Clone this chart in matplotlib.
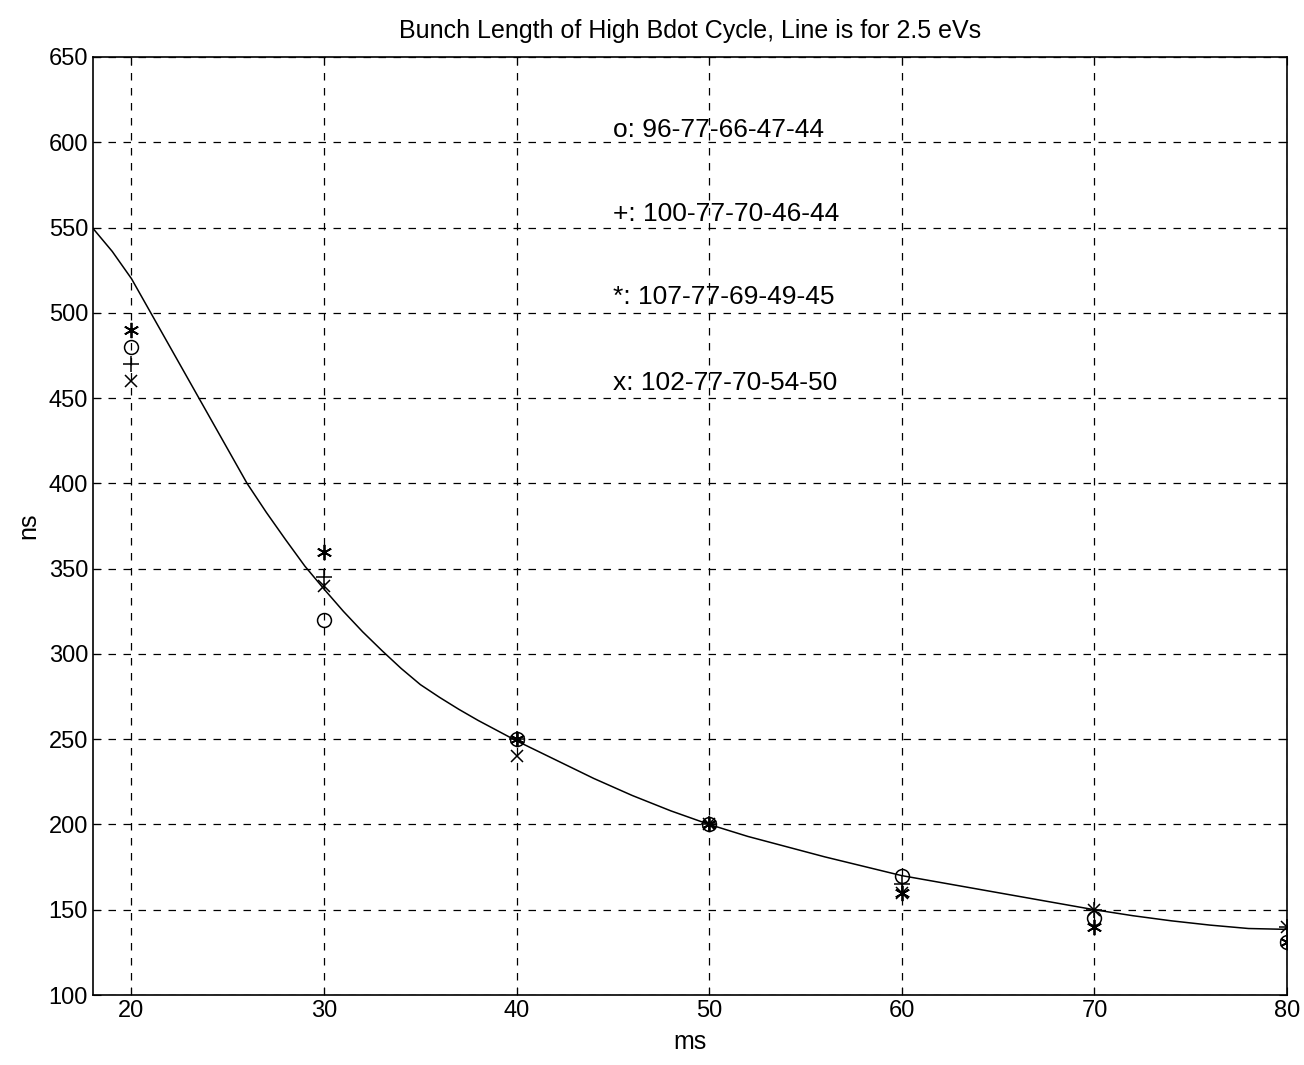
import matplotlib.pyplot as plt
import numpy as np

plt.rcParams['font.family'] = ['Liberation Sans', 'DejaVu Sans']

# measurement times (ms)
t = [20, 30, 40, 50, 60, 70, 80]

# bunch lengths (ns) for the four settings
len_o = [480, 320, 250, 200, 170, 145, 131]
len_plus = [470, 345, 250, 200, 165, 150, 140]
len_star = [490, 360, 250, 200, 160, 140, 131]
len_x = [460, 340, 240, 200, 160, 150, 140]

# line for 2.5 eVs
line_t = [18, 19, 20, 21, 22, 23, 24, 25, 26, 27, 28, 29, 30, 31, 32, 33, 34, 35, 36,
          37, 38, 39, 40, 42, 44, 46, 48, 50, 52, 54, 56, 58, 60, 62, 64, 66, 68, 70,
          72, 74, 76, 78, 80]
line_ns = [549.5, 536, 520, 500, 480, 460, 440, 420, 400, 383, 367, 351.5, 338, 325,
           313, 302, 291.5, 282, 274.5, 267.5, 261, 255, 249, 238, 227, 217, 208, 200,
           193, 187, 181, 175.5, 170, 166, 162, 158, 154, 150, 146.5, 143.5, 141, 139,
           138.5]

labels = ['o: 96-77-66-47-44', '+: 100-77-70-46-44',
          '*: 107-77-69-49-45', 'x: 102-77-70-54-50']
label_y = [607, 558, 509, 459]

fig = plt.figure(figsize=(13.04, 10.65), dpi=100)
ax = fig.add_axes([0.0713, 0.0657, 0.9157, 0.8808])

ax.plot(line_t, line_ns, color='black', lw=1.1)
ax.plot(t, len_o, ls='none', marker='o', ms=10, mfc='none', mec='black', mew=1.1)
ax.plot(t, len_plus, ls='none', marker='+', ms=11, color='black', mew=1.1)
ax.plot(t, len_star, ls='none', marker=(6, 2, 0), ms=11, color='black', mew=1.3)
ax.plot(t, len_x, ls='none', marker='x', ms=8, color='black', mew=1.1)

for s, yy in zip(labels, label_y):
    ax.text(45, yy, s, fontsize=19, va='center', ha='left')

ax.set_xlim(18, 80)
ax.set_ylim(100, 650)
ax.set_xticks(np.arange(20, 81, 10))
ax.set_yticks(np.arange(100, 651, 50))
ax.grid(True, ls=(0, (6, 6)), color='black', lw=0.9)
ax.tick_params(direction='in', labelsize=17, length=6, top=True, right=True)
for sp in ax.spines.values():
    sp.set_linewidth(1.2)

ax.set_xlabel('ms', fontsize=18, labelpad=6)
ax.set_ylabel('ns', fontsize=18, labelpad=6)
ax.set_title('Bunch Length of High Bdot Cycle, Line is for 2.5 eVs', fontsize=18, pad=14)

fig.savefig('out.png', dpi=100)
